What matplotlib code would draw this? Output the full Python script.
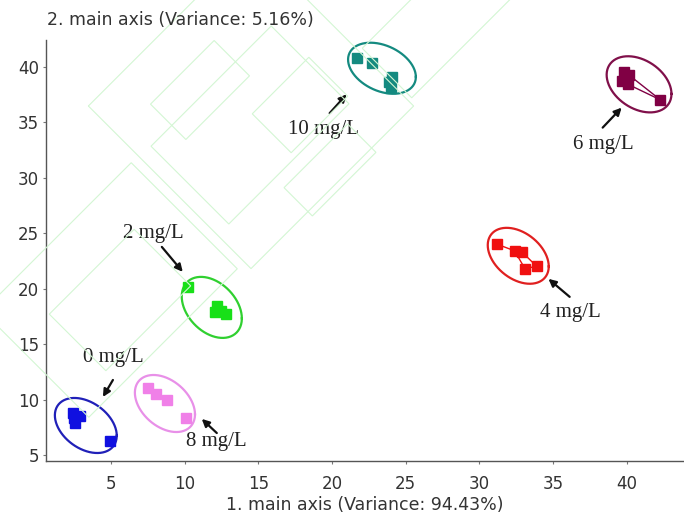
import numpy as np
import matplotlib.pyplot as plt
from matplotlib.patches import Rectangle
from matplotlib import transforms

# Puntos de cada concentracion (eje 1, eje 2)
grupos = ['0 mg/L', '2 mg/L', '4 mg/L', '6 mg/L', '8 mg/L', '10 mg/L']
colores = ['#1010e0', '#18e018', '#f01010', '#800044', '#f080e8', '#148a80']
colores_elipse = ['#2020b8', '#30d030', '#e02020', '#80104a', '#e890e8', '#148a80']

pc1_0 = [2.42, 2.90, 2.49, 2.56, 4.93]
pc2_0 = [8.79, 8.52, 8.34, 7.89, 6.26]
pc1_2 = [10.22, 12.19, 12.06, 12.46, 12.80]
pc2_2 = [20.15, 18.44, 17.90, 17.98, 17.70]
pc1_4 = [31.20, 32.40, 32.90, 33.10, 33.90]
pc2_4 = [24.00, 23.40, 23.30, 21.80, 22.00]
pc1_6 = [39.80, 40.20, 39.70, 40.10, 42.30]
pc2_6 = [39.50, 39.20, 38.70, 38.40, 37.00]
pc1_8 = [7.51, 8.05, 8.80, 10.09]
pc2_8 = [11.04, 10.50, 9.96, 8.34]
pc1_10 = [21.70, 22.70, 24.10, 23.90, 24.00]
pc2_10 = [40.80, 40.30, 39.10, 38.60, 38.10]

pc1 = [pc1_0, pc1_2, pc1_4, pc1_6, pc1_8, pc1_10]
pc2 = [pc2_0, pc2_2, pc2_4, pc2_6, pc2_8, pc2_10]

# uniones entre puntos (indices)
uniones = [[], [], [(0, 1), (1, 2), (1, 3), (2, 4), (3, 4)],
           [(1, 4), (3, 4)], [], []]

# elipses: centro, semiejes de la caja y correlacion
elip_cx = [3.30, 11.85, 32.65, 40.85, 8.67, 23.40]
elip_cy = [7.66, 18.30, 22.95, 38.40, 9.64, 39.85]
elip_rx = [2.10, 2.04, 2.07, 2.20, 2.04, 2.30]
elip_ry = [2.48, 2.75, 2.52, 2.53, 2.57, 2.30]
elip_rho = [-0.37, -0.36, -0.38, -0.34, -0.38, -0.34]

# etiquetas: texto, punta de flecha, cola de flecha
etq_x = [5.14, 7.85, 36.20, 38.40, 12.19, 19.40]
etq_y = [13.75, 25.00, 17.80, 32.95, 6.26, 34.30]
punta_x = [4.46, 9.88, 34.70, 39.67, 11.17, 21.00]
punta_y = [10.23, 21.50, 20.87, 36.30, 8.25, 37.50]
cola_x = [5.14, 8.46, 36.14, 38.38, 12.19, 19.85]
cola_y = [11.76, 23.75, 19.25, 34.50, 6.98, 35.80]

xticks = [5, 10, 15, 20, 25, 30, 35, 40]
yticks = [5, 10, 15, 20, 25, 30, 35, 40]

fig = plt.figure(figsize=(6.84, 5.16), dpi=100)
ax = fig.add_axes([0.0673, 0.1066, 0.9327, 0.816])

# marca de agua de fondo (rectangulos girados, en pixeles)
px = transforms.Affine2D().scale(1 / 684, -1 / 516).translate(0, 1) + fig.transFigure
marca = [(251, 106, 230, 230), (250, 125, 170, 110), (300, 105, 80, 55),
         (200, 90, 90, 50), (110, 290, 210, 150), (120, 300, 120, 80),
         (440, 20, 150, 70), (330, 170, 90, 40)]
for cx, cy, w, h in marca:
    r = Rectangle((cx - w / 2, cy - h / 2), w, h, fill=False, ec='#d3f6d3',
                  lw=0.8, transform=transforms.Affine2D().rotate_deg_around(cx, cy, -45) + px,
                  zorder=0)
    fig.patches.append(r)

t = np.linspace(0, 2 * np.pi, 200)
for i in range(len(grupos)):
    d = np.arccos(elip_rho[i])
    ex = elip_cx[i] + elip_rx[i] * np.cos(t)
    ey = elip_cy[i] + elip_ry[i] * np.cos(t - d)
    ax.plot(ex, ey, color=colores_elipse[i], lw=1.6, zorder=2)
    for a, b in uniones[i]:
        ax.plot([pc1[i][a], pc1[i][b]], [pc2[i][a], pc2[i][b]],
                color=colores[i], lw=1.0, zorder=3)
    ax.plot(pc1[i], pc2[i], 's', color=colores[i], ms=7.5, mec=colores[i], zorder=4)
    ax.annotate('', xy=(punta_x[i], punta_y[i]), xytext=(cola_x[i], cola_y[i]),
                arrowprops=dict(arrowstyle='-|>', color='#111111', lw=1.6,
                                mutation_scale=11, shrinkA=0, shrinkB=0))
    ax.text(etq_x[i], etq_y[i], grupos[i], ha='center', va='center',
            fontsize=15, family='Liberation Serif', color='#222222')

ax.set_xlim(0.6, 43.9)
ax.set_ylim(4.46, 42.4)
ax.set_xticks(xticks)
ax.set_yticks(yticks)
for s in ['top', 'right']:
    ax.spines[s].set_visible(False)
for s in ['left', 'bottom']:
    ax.spines[s].set_color('#555555')
    ax.spines[s].set_linewidth(1.0)
ax.tick_params(axis='both', length=2, width=0.8, color='#777777',
               labelsize=12, labelcolor='#333333')
ax.tick_params(axis='x', pad=8)
ax.tick_params(axis='y', pad=3)
ax.patch.set_alpha(0)

ax.set_xlabel('1. main axis (Variance: 94.43%)', fontsize=12.5, color='#333333', labelpad=2)
fig.text(47 / 684, 1 - 20 / 516, '2. main axis (Variance: 5.16%)', ha='left', va='center',
         fontsize=12.5, color='#333333')

fig.savefig('out.png', dpi=100)
